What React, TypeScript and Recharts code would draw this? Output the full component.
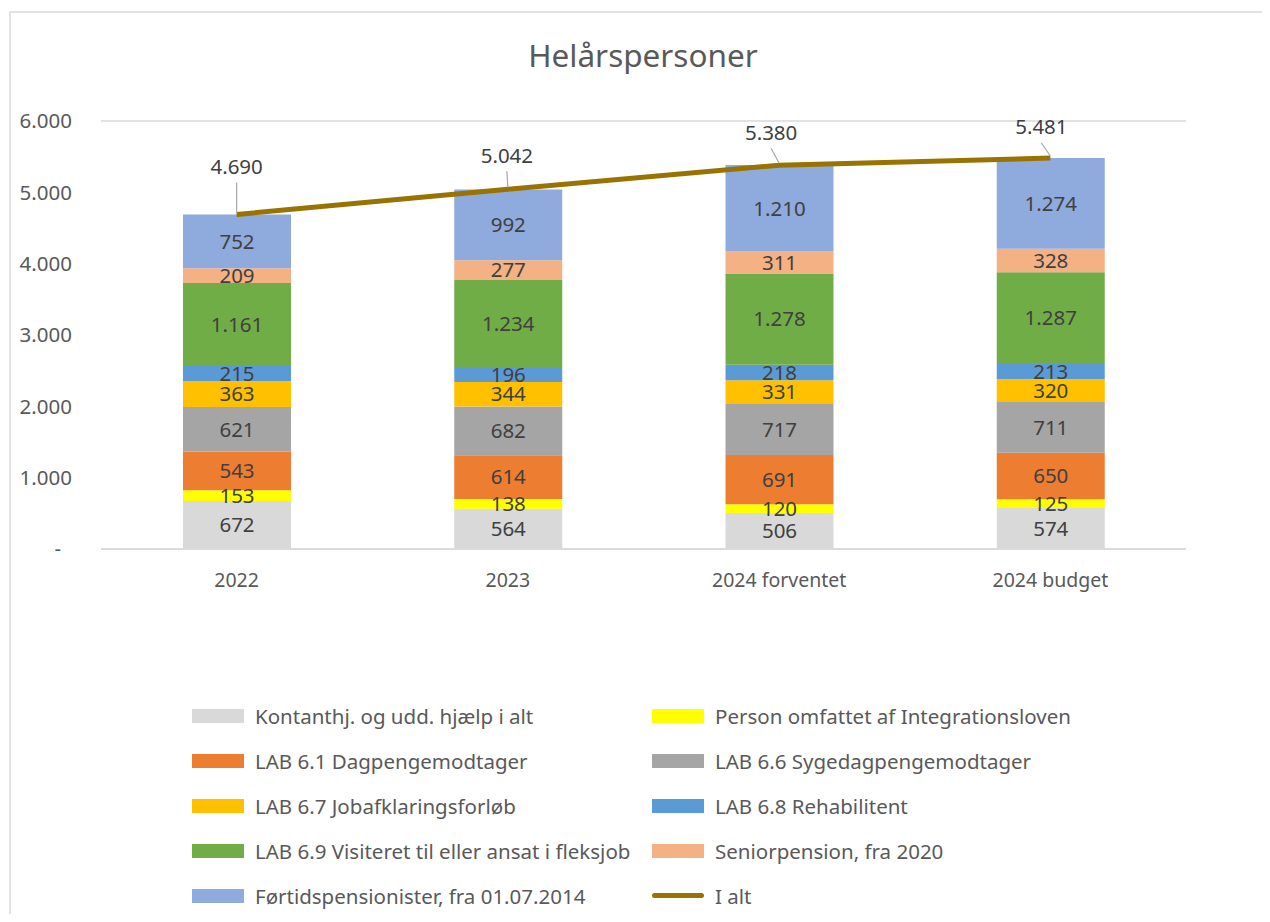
import {
  ComposedChart,
  Bar,
  Line,
  XAxis,
  YAxis,
  CartesianGrid,
  Legend,
  LabelList,
} from "recharts";

// ─────────────────────────────────────────
// DATA
// ─────────────────────────────────────────

const categories = ["2022", "2023", "2024 forventet", "2024 budget"];

const kontanthjaelp = [672, 564, 506, 574];
const integration = [153, 138, 120, 125];
const lab61 = [543, 614, 691, 650];
const lab66 = [621, 682, 717, 711];
const lab67 = [363, 344, 331, 320];
const lab68 = [215, 196, 218, 213];
const lab69 = [1161, 1234, 1278, 1287];
const senior = [209, 277, 311, 328];
const foertid = [752, 992, 1210, 1274];
const iAlt = [4690, 5042, 5380, 5481];

const yTicks = [0, 1000, 2000, 3000, 4000, 5000, 6000];

// stacked series, bottom to top (also legend order)
const barSeries = [
  { key: "kontant", name: "Kontanthj. og udd. hjælp i alt", values: kontanthjaelp, color: "#d9d9d9" },
  { key: "integration", name: "Person omfattet af Integrationsloven", values: integration, color: "#ffff00" },
  { key: "lab61", name: "LAB 6.1 Dagpengemodtager", values: lab61, color: "#ed7d31" },
  { key: "lab66", name: "LAB 6.6 Sygedagpengemodtager", values: lab66, color: "#a5a5a5" },
  { key: "lab67", name: "LAB 6.7 Jobafklaringsforløb", values: lab67, color: "#ffc000" },
  { key: "lab68", name: "LAB 6.8 Rehabilitent", values: lab68, color: "#5b9bd5" },
  { key: "lab69", name: "LAB 6.9 Visiteret til eller ansat i fleksjob", values: lab69, color: "#70ad47" },
  { key: "senior", name: "Seniorpension, fra 2020", values: senior, color: "#f4b183" },
  { key: "foertid", name: "Førtidspensionister, fra 01.07.2014", values: foertid, color: "#8faadc" },
];

const LINE_COLOR = "#997300";
const TEXT = "#595959";
const LABEL = "#404040";
const FONT = "'Noto Sans', 'Open Sans', sans-serif";

// ─────────────────────────────────────────
// HELPERS
// ─────────────────────────────────────────

/** Danish thousands separator: 4690 -> "4.690" */
const fmt = (v: number) => String(Math.round(v)).replace(/\B(?=(\d{3})+(?!\d))/g, ".");

const data = categories.map((cat, i) => {
  const row: Record<string, string | number> = { category: cat, total: iAlt[i] };
  barSeries.forEach((s) => {
    row[s.key] = s.values[i];
  });
  return row;
});

// manual nudges of the total labels, as in the workbook
const totalLabelShift = [
  [0, -48],
  [-1, -34],
  [-8, -33],
  [-9, -31],
];

const TotalLabel = (props: any) => {
  const { x, y, value, index } = props;
  const [dx, dy] = totalLabelShift[index] ?? [0, -30];
  const lx = x + dx;
  const ly = y + dy;
  return (
    <g>
      <line x1={lx} y1={ly + 16} x2={x} y2={y - 2} stroke="#a6a6a6" strokeWidth={1.2} />
      <text x={lx} y={ly} dy="0.36em" textAnchor="middle" fill={LABEL} fontSize={20.5} fontFamily={FONT}>
        {fmt(value)}
      </text>
    </g>
  );
};

const LeftTick = ({ x, y, payload }: any) => (
  <text x={payload.value === 0 ? x - 11 : x} y={y} dy="0.36em" textAnchor="end" fill={TEXT} fontSize={20.5} fontFamily={FONT}>
    {payload.value === 0 ? "-" : fmt(payload.value)}
  </text>
);

const RightTick = ({ x, y, payload }: any) => (
  <text x={payload.value === 0 ? x + 4 : x} y={y} dy="0.36em" textAnchor="start" fill={TEXT} fontSize={20.5} fontFamily={FONT}>
    {payload.value === 0 ? "-" : fmt(payload.value)}
  </text>
);

const legendItems = [
  ...barSeries.map((s) => ({ name: s.name, color: s.color, line: false })),
  { name: "I alt", color: LINE_COLOR, line: true },
];

const LegendContent = () => (
  <div style={{ display: "grid", gridTemplateColumns: "460px 520px", paddingLeft: 184, fontFamily: FONT }}>
    {legendItems.map((item) => (
      <div key={item.name} style={{ height: 45, display: "flex", alignItems: "center", color: TEXT, fontSize: 20.5 }}>
        {item.line ? (
          <span style={{ width: 52, height: 5, borderRadius: 3, background: item.color, marginRight: 11 }} />
        ) : (
          <span style={{ width: 52, height: 14, background: item.color, marginRight: 11 }} />
        )}
        <span style={{ whiteSpace: "nowrap" }}>{item.name}</span>
      </div>
    ))}
  </div>
);

// ─────────────────────────────────────────
// COMPONENT
// ─────────────────────────────────────────

const App = () => (
  <div style={{ position: "relative", width: 1262, height: 906, overflow: "hidden", fontFamily: FONT }}>
    {/* chart frame */}
    <div
      style={{
        position: "absolute",
        left: 1,
        top: 3,
        width: 1400,
        height: 1000,
        borderLeft: "2px solid #e2e2e2",
        borderTop: "2px solid #e2e2e2",
      }}
    />
    {/* title */}
    <div
      style={{
        position: "absolute",
        top: 28,
        left: 0,
        width: 1262,
        paddingLeft: 8,
        boxSizing: "border-box",
        textAlign: "center",
        fontSize: 31.5,
        lineHeight: "38px",
        color: TEXT,
      }}
    >
      Helårspersoner
    </div>
    <div style={{ position: "absolute", left: 0, top: 0 }}>
      <ComposedChart
        width={1262}
        height={906}
        data={data}
        margin={{ top: 113, right: 0, bottom: 325, left: 0 }}
      >
        <CartesianGrid vertical={false} stroke="#d9d9d9" strokeWidth={1.5} />
        <XAxis
          dataKey="category"
          height={40}
          axisLine={{ stroke: "#d9d9d9", strokeWidth: 1.5 }}
          tickLine={false}
          tickMargin={18}
          tick={{ fill: TEXT, fontSize: 19.5, fontFamily: FONT }}
        />
        <YAxis
          yAxisId="left"
          orientation="left"
          width={93}
          domain={[0, 6000]}
          ticks={yTicks}
          axisLine={false}
          tickLine={false}
          tickMargin={23}
          tick={<LeftTick />}
        />
        <YAxis
          yAxisId="right"
          orientation="right"
          width={84}
          domain={[0, 6000]}
          ticks={yTicks}
          axisLine={false}
          tickLine={false}
          tickMargin={22}
          tick={<RightTick />}
        />
        <Legend
          layout="vertical"
          align="center"
          verticalAlign="middle"
          content={<LegendContent />}
          wrapperStyle={{ top: 685, left: 0, width: 1262, height: 225 }}
        />
        {barSeries.map((s) => (
          <Bar
            key={s.key}
            yAxisId="left"
            dataKey={s.key}
            name={s.name}
            stackId="a"
            fill={s.color}
            barSize={108}
            isAnimationActive={false}
          >
            <LabelList
              dataKey={s.key}
              position="center"
              fill={LABEL}
              fontSize={20.5}
              fontFamily={FONT}
              formatter={(v: any) => fmt(Number(v))}
            />
          </Bar>
        ))}
        <Line
          yAxisId="left"
          dataKey="total"
          name="I alt"
          stroke={LINE_COLOR}
          strokeWidth={5}
          dot={false}
          activeDot={false}
          isAnimationActive={false}
        >
          <LabelList dataKey="total" content={<TotalLabel />} />
        </Line>
      </ComposedChart>
    </div>
  </div>
);

export default App;
